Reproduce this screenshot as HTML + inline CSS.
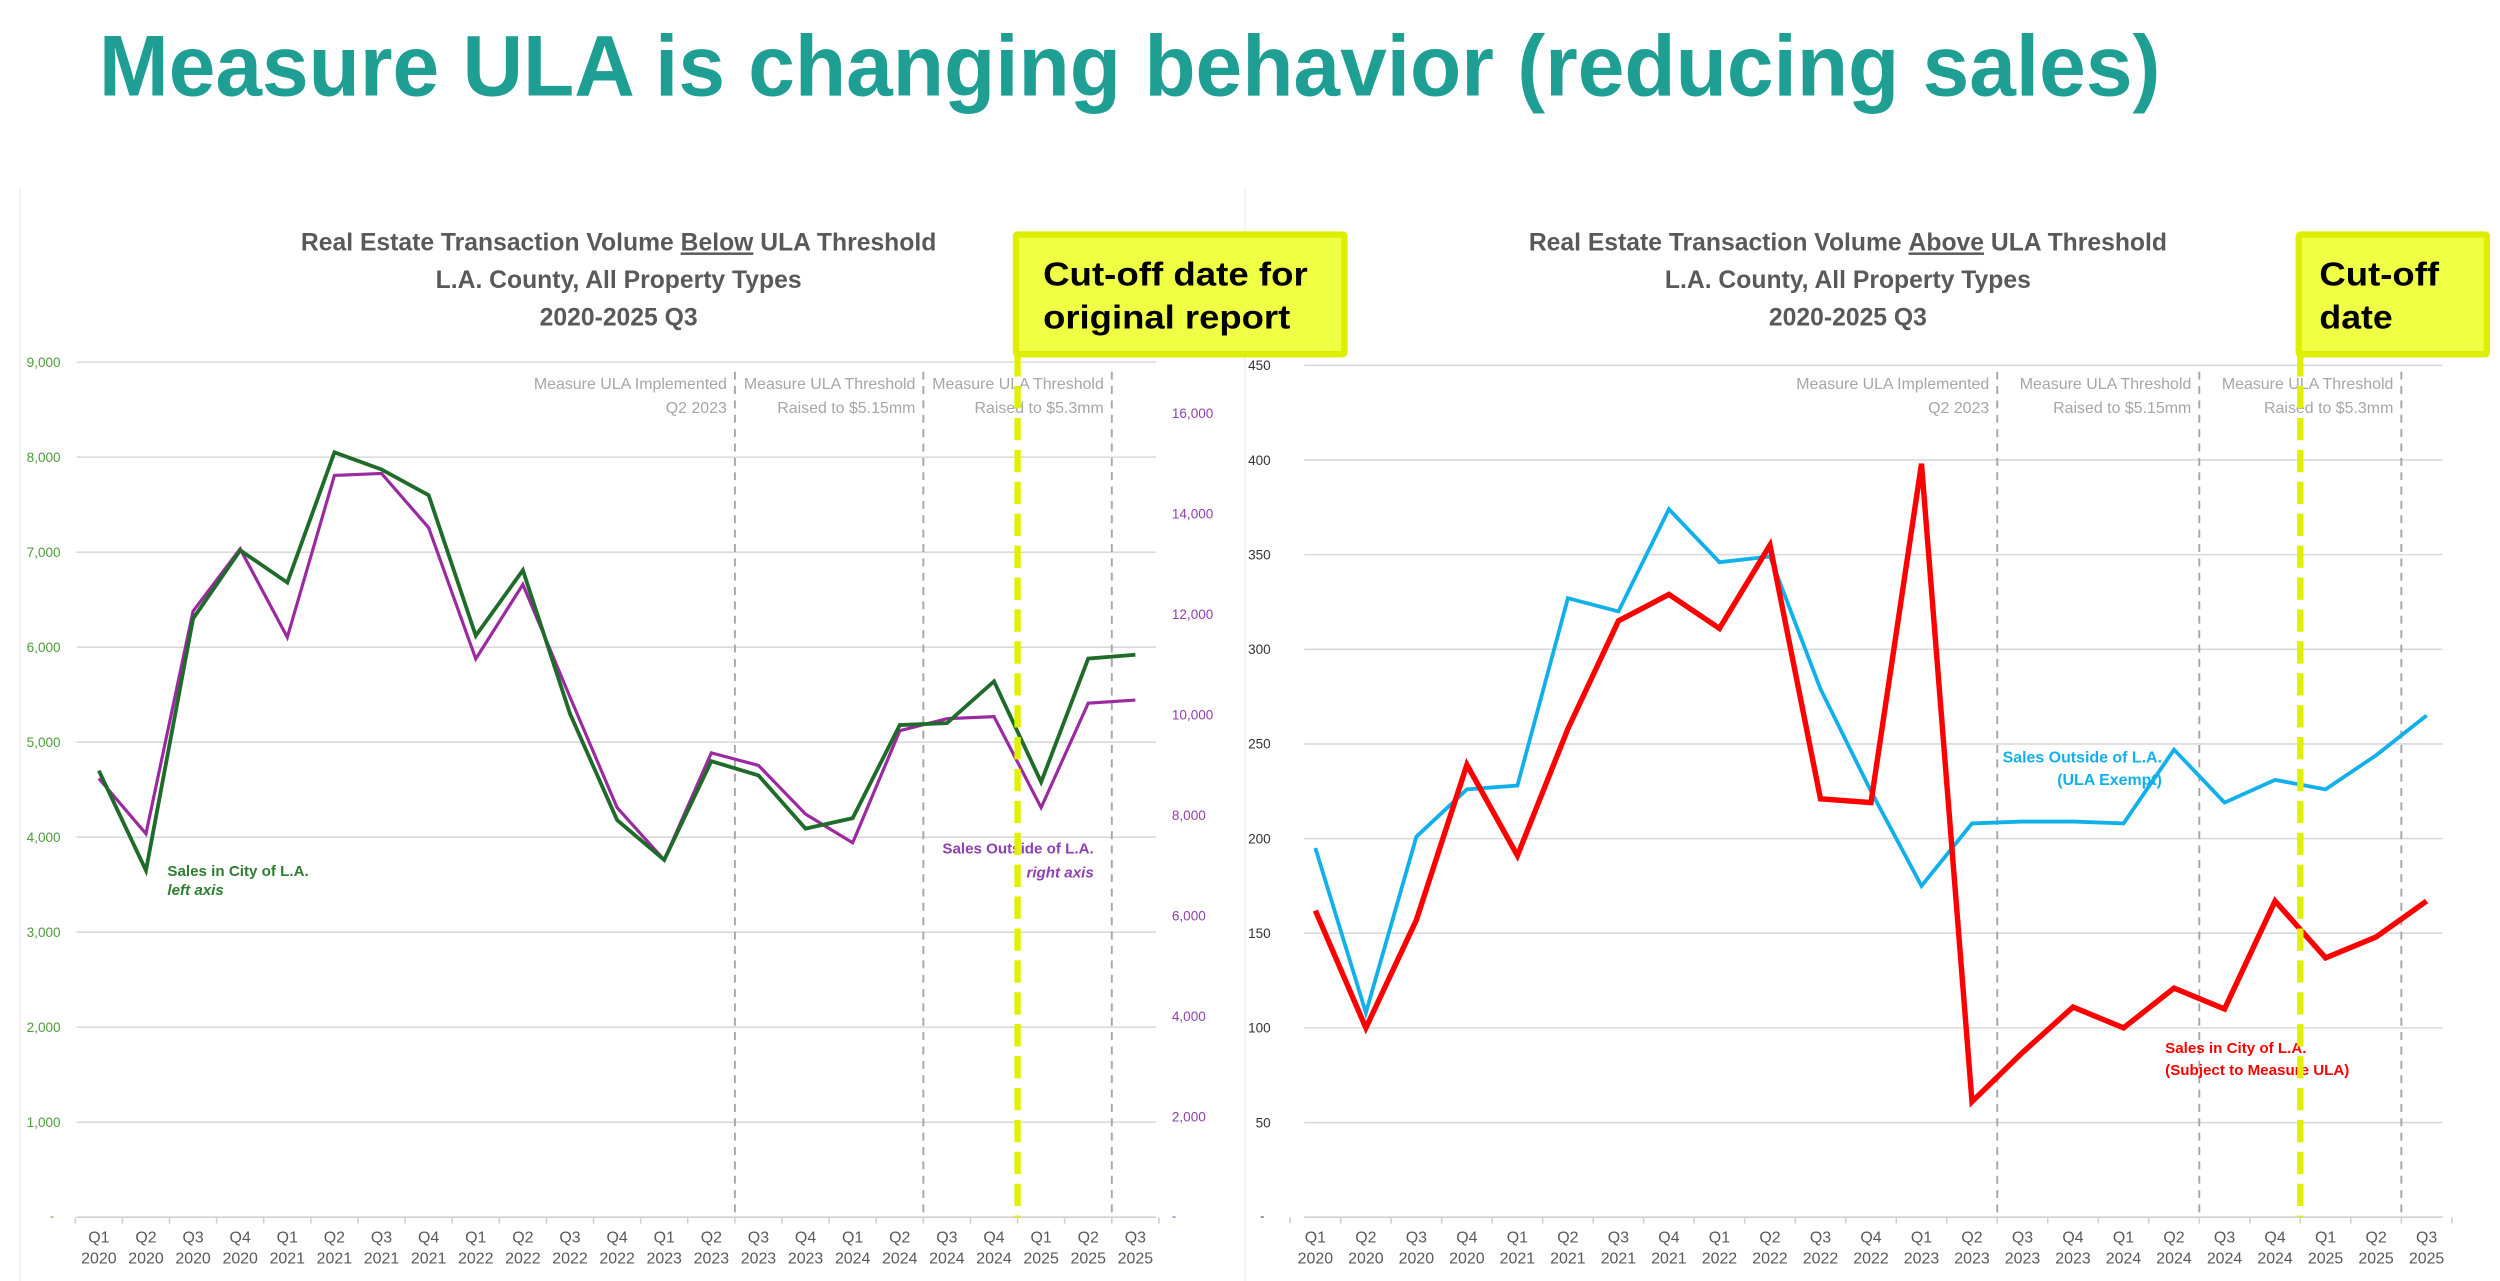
<!DOCTYPE html>
<html><head><meta charset="utf-8"><style>
html,body{margin:0;padding:0;background:#fff;width:2500px;height:1281px;overflow:hidden}
svg{display:block;font-family:"Liberation Sans",sans-serif}
</style></head><body>
<svg id="root" width="2500" height="1281" viewBox="0 0 1568 803" preserveAspectRatio="none">
<text x="62" y="60" font-size="54" font-weight="bold" fill="#1f9e94" textLength="1293" lengthAdjust="spacingAndGlyphs">Measure ULA is changing behavior (reducing sales)</text>
<line x1="12.6" y1="118" x2="12.6" y2="803" stroke="#eee" stroke-width="1"/>
<line x1="781" y1="118" x2="781" y2="803" stroke="#f2f2f2" stroke-width="1"/>
<g id="left"></g>
<g id="right"></g>
</svg>
<script>
const quarters = ["Q1","Q2","Q3","Q4","Q1","Q2","Q3","Q4","Q1","Q2","Q3","Q4","Q1","Q2","Q3","Q4","Q1","Q2","Q3","Q4","Q1","Q2","Q3"];
const years = ["2020","2020","2020","2020","2021","2021","2021","2021","2022","2022","2022","2022","2023","2023","2023","2023","2024","2024","2024","2024","2025","2025","2025"];
const belowCityLA = [4700,3650,6300,7020,6680,8050,7870,7600,6120,6810,5300,4180,3760,4800,4650,4090,4200,5180,5200,5640,4580,5880,5920];
const belowOutsideLA = [8730,7630,12060,13300,11540,14760,14800,13720,11110,12590,10350,8150,7110,9240,8990,8020,7450,9680,9920,9960,8150,10230,10290];
const aboveCityLA = [162,100,157,239,191,258,315,329,311,355,221,219,398,61,87,111,100,121,110,167,137,148,167];
const aboveOutsideLA = [195,108,201,226,228,327,320,374,346,349,279,225,175,208,209,209,208,247,219,231,226,244,265];
const leftTicks = [1000,2000,3000,4000,5000,6000,7000,8000,9000];
const leftTickLabels = ["1,000","2,000","3,000","4,000","5,000","6,000","7,000","8,000","9,000"];
const rightTicks = [2000,4000,6000,8000,10000,12000,14000,16000];
const rightTickLabels = ["2,000","4,000","6,000","8,000","10,000","12,000","14,000","16,000"];
const aboveTicks = [50,100,150,200,250,300,350,400,450];
const aboveTickLabels = ["50","100","150","200","250","300","350","400","450"];
const eventBoundaries = [13.5,17.5,21.5];
const cutoffIndex = 19.5;

const NS="http://www.w3.org/2000/svg";
function mk(parent,tag,attrs,text){const e=document.createElementNS(NS,tag);for(const k in attrs)e.setAttribute(k,attrs[k]);if(text!==undefined)e.textContent=text;parent.appendChild(e);return e;}

function drawChart(g,cfg){
  const xs=i=>cfg.x0+i*cfg.step;
  const yL=v=>cfg.yBase-(v/cfg.lMax)*(cfg.yBase-cfg.yTop);
  const yR=v=>cfg.yBase-(v/cfg.rMax)*(cfg.yBase-cfg.yTop);
  cfg.title.forEach((t,i)=>{
    const tx=mk(g,'text',{x:cfg.titleX,y:157+i*23.5,'text-anchor':'middle','font-size':15.5,'font-weight':'bold',fill:'#595959'});
    
    
    if(i===0){
      mk(tx,'tspan',{},t[0]);mk(tx,'tspan',{'text-decoration':'underline'},t[1]);mk(tx,'tspan',{},t[2]);
    } else tx.textContent=t;
  });
  cfg.lTicks.forEach((v,i)=>{
    const ln=mk(g,'line',{x1:cfg.gx0,x2:cfg.gx1,y1:yL(v),y2:yL(v),stroke:'#d9d9d9','stroke-width':1});
    
    
    const t=mk(g,'text',{x:cfg.lLabelX,y:yL(v)+3,'text-anchor':'end','font-size':8.5,fill:cfg.lColor},cfg.lLabels[i]);
    
    
  });
  const z=mk(g,'text',{x:cfg.lLabelX-4,y:cfg.yBase+2,'text-anchor':'end','font-size':8,fill:cfg.lColor},'-');
  
  
  if(cfg.rTicks){
    cfg.rTicks.forEach((v,i)=>{
      const t=mk(g,'text',{x:cfg.rLabelX,y:yR(v)+3,'text-anchor':'start','font-size':8.5,fill:'#8e3fb0'},cfg.rLabels[i]);
      
      
    });
    const rz=mk(g,'text',{x:cfg.rLabelX,y:cfg.yBase+2,'font-size':8,fill:'#8e3fb0'},'-');
    
    
  }
  const ax=mk(g,'line',{x1:cfg.gx0,x2:cfg.gx1,y1:cfg.yBase,y2:cfg.yBase,stroke:'#d0d0d0','stroke-width':1});
  
  
  for(let i=0;i<=quarters.length;i++){
    const tk=mk(g,'line',{x1:xs(i-0.5),x2:xs(i-0.5),y1:cfg.yBase,y2:cfg.yBase+4,stroke:'#d0d0d0','stroke-width':1});
    
    
  }
  quarters.forEach((q,i)=>{
    const t=mk(g,'text',{x:xs(i),y:779,'text-anchor':'middle','font-size':10,fill:'#595959'},q);
    
    
    const t2=mk(g,'text',{x:xs(i),y:792,'text-anchor':'middle','font-size':10,fill:'#595959'},years[i]);
    
    
  });
  eventBoundaries.forEach(b=>{
    const l=mk(g,'line',{x1:xs(b),x2:xs(b),y1:233,y2:cfg.yBase,stroke:'#a6a6a6','stroke-width':1.2,'stroke-dasharray':'5 4'});
    
    
  });
  const notes=[["Measure ULA Implemented","Q2 2023"],["Measure ULA Threshold","Raised to $5.15mm"],["Measure ULA Threshold","Raised to $5.3mm"]];
  notes.forEach((n,i)=>{
    const xr=xs(eventBoundaries[i])-5;
    const a=mk(g,'text',{x:xr,y:244,'text-anchor':'end','font-size':10,fill:'#a6a6a6'},n[0]);
    
    
    const b=mk(g,'text',{x:xr,y:259,'text-anchor':'end','font-size':10,fill:'#a6a6a6'},n[1]);
    
    
  });
  cfg.series.forEach(s=>{
    const sc=s.axis==='r'?yR:yL;
    const pts=s.data.map((v,i)=>xs(i).toFixed(2)+','+sc(v).toFixed(2)).join(' ');
    const p=mk(g,'polyline',{points:pts,fill:'none',stroke:s.color,'stroke-width':s.w,'stroke-linejoin':'miter'});
    
    
  });
  cfg.labels.forEach(L=>{
    const t=mk(g,'text',{x:L.x,y:L.y,'text-anchor':L.anchor,'font-size':L.size||10,'font-weight':'bold','font-style':L.italic?'italic':'normal',fill:L.color},L.text);
    
    
  });
  const cx=xs(cutoffIndex);
  const cl=mk(g,'line',{x1:cx,x2:cx,y1:222,y2:cfg.yBase,stroke:'#e0f000','stroke-width':4,'stroke-dasharray':'14 6'});
  
  
  const bx=mk(g,'rect',{x:cx-1,y:147,width:cfg.boxW,height:75,fill:'#eeff44',stroke:'#ddee00','stroke-width':4,rx:1});
  
  
  cfg.boxText.forEach((t,i)=>{
    const tx=mk(g,'text',{x:cx+cfg.boxPad,y:179+i*27,'font-size':21,'font-weight':'bold',fill:'#000',textLength:cfg.boxLens[i],lengthAdjust:'spacingAndGlyphs'},t);
    
    
  });
}

drawChart(document.getElementById('left'),{
  x0:62,step:29.55,yBase:763,yTop:227,lMax:9000,rMax:17015,gx0:48,gx1:725,
  lTicks:leftTicks,lLabels:leftTickLabels,lColor:'#4e9a3a',lLabelX:38,
  rTicks:rightTicks,rLabels:rightTickLabels,rLabelX:735,
  titleX:388,
  title:[["Real Estate Transaction Volume ","Below"," ULA Threshold"],"L.A. County, All Property Types","2020-2025 Q3"],
  series:[
    {name:'line-outside-la-right-axis',data:belowOutsideLA,axis:'r',color:'#9b2aa0',w:2},
    {name:'line-city-la-left-axis',data:belowCityLA,axis:'l',color:'#1e6b2a',w:2.4}
  ],
  labels:[
    {x:105,y:549,anchor:'start',text:'Sales in City of L.A.',color:'#2e7d32',size:9.5},
    {x:105,y:561,anchor:'start',text:'left axis',color:'#2e7d32',italic:true,size:9.5},
    {x:686,y:535,anchor:'end',text:'Sales Outside of L.A.',color:'#8e3fb0',size:9.5},
    {x:686,y:550,anchor:'end',text:'right axis',color:'#8e3fb0',italic:true,size:9.5}
  ],
  boxW:206,boxPad:16,boxText:["Cut-off date for","original report"],boxLens:[166,155]
});
drawChart(document.getElementById('right'),{
  x0:825,step:31.68,yBase:763,yTop:229,lMax:450,gx0:818,gx1:1532,
  lTicks:aboveTicks,lLabels:aboveTickLabels,lColor:'#333',lLabelX:797,
  titleX:1159,
  title:[["Real Estate Transaction Volume ","Above"," ULA Threshold"],"L.A. County, All Property Types","2020-2025 Q3"],
  series:[
    {name:'line-outside-la',data:aboveOutsideLA,axis:'l',color:'#12b0ea',w:2.4},
    {name:'line-city-la',data:aboveCityLA,axis:'l',color:'#ff0000',w:3.4}
  ],
  labels:[
    {x:1356,y:478,anchor:'end',text:'Sales Outside of L.A.',color:'#12b0ea',size:10},
    {x:1356,y:492,anchor:'end',text:'(ULA Exempt)',color:'#12b0ea',size:10},
    {x:1358,y:660,anchor:'start',text:'Sales in City of L.A.',color:'#ff0000',size:9.5},
    {x:1358,y:674,anchor:'start',text:'(Subject to Measure ULA)',color:'#ff0000',size:9.5}
  ],
  boxW:118,boxPad:12,boxText:["Cut-off","date"],boxLens:[75,46]
});
</script>
</body></html>
